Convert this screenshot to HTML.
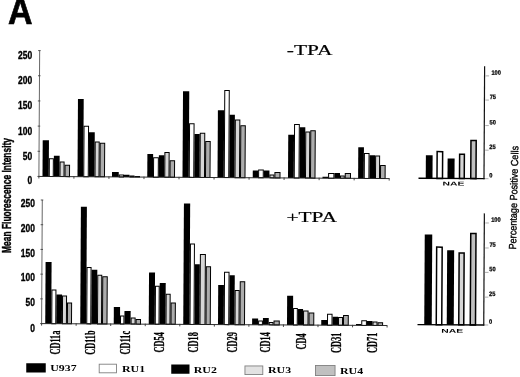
<!DOCTYPE html>
<html><head><meta charset="utf-8"><title>Figure A</title>
<style>html,body{margin:0;padding:0;background:#fff}svg{display:block}</style></head>
<body>
<svg width="520" height="377" viewBox="0 0 520 377">
<rect width="520" height="377" fill="#fff"/>
<text transform="translate(8 23.6) scale(0.905 1)" font-family="'Liberation Sans',sans-serif" font-weight="bold" font-size="37.5" stroke="#000" stroke-width="0.7">A</text>
<g transform="rotate(0.35 38.9 176.45)">
<rect x="42.5" y="140.21" width="6.25" height="36.24" fill="#000"/>
<rect x="49.25" y="158.67" width="4" height="17.78" fill="#fff" stroke="#000" stroke-width="1"/>
<rect x="53.75" y="155.64" width="5.75" height="20.81" fill="#000"/>
<rect x="60" y="161.86" width="4" height="14.59" fill="#d6d6d6" stroke="#000" stroke-width="1"/>
<rect x="65" y="165.08" width="4.5" height="11.37" fill="#acacac" stroke="#000" stroke-width="1"/>
<rect x="77.5" y="98.75" width="5.75" height="77.7" fill="#000"/>
<rect x="83.75" y="125.96" width="4.5" height="50.49" fill="#fff" stroke="#000" stroke-width="1"/>
<rect x="88.75" y="131.93" width="5.75" height="44.52" fill="#000"/>
<rect x="95" y="141.65" width="4" height="34.8" fill="#d6d6d6" stroke="#000" stroke-width="1"/>
<rect x="100" y="142.86" width="4.5" height="33.59" fill="#acacac" stroke="#000" stroke-width="1"/>
<rect x="112" y="171.43" width="6.75" height="5.02" fill="#000"/>
<rect x="119.25" y="174.4" width="4.25" height="2.05" fill="#fff" stroke="#000" stroke-width="1"/>
<rect x="124" y="174.26" width="5.5" height="2.19" fill="#000"/>
<rect x="130" y="175.53" width="4" height="0.92" fill="#d6d6d6" stroke="#000" stroke-width="1"/>
<rect x="135" y="175.9" width="4.5" height="0.55" fill="#acacac" stroke="#000" stroke-width="1"/>
<rect x="147.25" y="153.32" width="5.75" height="23.13" fill="#000"/>
<rect x="153.5" y="157.04" width="4.75" height="19.41" fill="#fff" stroke="#000" stroke-width="1"/>
<rect x="158.75" y="154.5" width="5.5" height="21.95" fill="#000"/>
<rect x="164.75" y="151.72" width="4.25" height="24.73" fill="#d6d6d6" stroke="#000" stroke-width="1"/>
<rect x="170" y="159.94" width="4.5" height="16.51" fill="#acacac" stroke="#000" stroke-width="1"/>
<rect x="182.5" y="90.35" width="6.25" height="86.1" fill="#000"/>
<rect x="189.25" y="122.82" width="4.5" height="53.63" fill="#fff" stroke="#000" stroke-width="1"/>
<rect x="194.25" y="133.03" width="5.25" height="43.42" fill="#000"/>
<rect x="200" y="132.25" width="4.5" height="44.2" fill="#d6d6d6" stroke="#000" stroke-width="1"/>
<rect x="205.5" y="140.47" width="4.5" height="35.98" fill="#acacac" stroke="#000" stroke-width="1"/>
<rect x="217.5" y="109.14" width="6.25" height="67.31" fill="#000"/>
<rect x="224.25" y="89.35" width="4.5" height="87.1" fill="#fff" stroke="#000" stroke-width="1"/>
<rect x="229.25" y="113.57" width="5.25" height="62.88" fill="#000"/>
<rect x="235" y="118.79" width="4.5" height="57.66" fill="#d6d6d6" stroke="#000" stroke-width="1"/>
<rect x="240.5" y="124.5" width="4.5" height="51.95" fill="#acacac" stroke="#000" stroke-width="1"/>
<rect x="252.75" y="169.28" width="5.35" height="7.17" fill="#000"/>
<rect x="258.6" y="168.54" width="4.65" height="7.91" fill="#fff" stroke="#000" stroke-width="1"/>
<rect x="263.75" y="169.21" width="5.65" height="7.24" fill="#000"/>
<rect x="269.9" y="173.48" width="4" height="2.97" fill="#d6d6d6" stroke="#000" stroke-width="1"/>
<rect x="274.9" y="171.14" width="5.1" height="5.31" fill="#acacac" stroke="#000" stroke-width="1"/>
<rect x="288" y="133.21" width="5.75" height="43.24" fill="#000"/>
<rect x="294.25" y="122.93" width="4.75" height="53.52" fill="#fff" stroke="#000" stroke-width="1"/>
<rect x="299.5" y="125.64" width="5.5" height="50.81" fill="#000"/>
<rect x="305.5" y="130.36" width="4" height="46.09" fill="#d6d6d6" stroke="#000" stroke-width="1"/>
<rect x="310.5" y="129.08" width="4.5" height="47.37" fill="#acacac" stroke="#000" stroke-width="1"/>
<rect x="322.5" y="175.05" width="5.6" height="1.4" fill="#000"/>
<rect x="328.6" y="171.81" width="5.3" height="4.64" fill="#fff" stroke="#000" stroke-width="1"/>
<rect x="334.4" y="171.28" width="5.6" height="5.17" fill="#000"/>
<rect x="340.5" y="174.25" width="3.75" height="2.2" fill="#d6d6d6" stroke="#000" stroke-width="1"/>
<rect x="345.25" y="171.71" width="5.25" height="4.74" fill="#acacac" stroke="#000" stroke-width="1"/>
<rect x="358.1" y="145.28" width="5.65" height="31.17" fill="#000"/>
<rect x="364.25" y="151.5" width="4.65" height="24.95" fill="#fff" stroke="#000" stroke-width="1"/>
<rect x="369.4" y="153.16" width="5.6" height="23.29" fill="#000"/>
<rect x="375.5" y="154.03" width="4" height="22.42" fill="#d6d6d6" stroke="#000" stroke-width="1"/>
<rect x="380.5" y="163.4" width="4.6" height="13.05" fill="#acacac" stroke="#000" stroke-width="1"/>
<line x1="38.9" y1="50.6" x2="38.9" y2="176.45" stroke="#555" stroke-width="0.9"/>
<line x1="38.4" y1="176.45" x2="389.3" y2="176.45" stroke="#222" stroke-width="0.95"/>
<line x1="38.9" y1="175.95" x2="38.9" y2="178.45" stroke="#333" stroke-width="0.9"/>
<line x1="73.93" y1="175.95" x2="73.93" y2="178.45" stroke="#333" stroke-width="0.9"/>
<line x1="108.96" y1="175.95" x2="108.96" y2="178.45" stroke="#333" stroke-width="0.9"/>
<line x1="143.99" y1="175.95" x2="143.99" y2="178.45" stroke="#333" stroke-width="0.9"/>
<line x1="179.02" y1="175.95" x2="179.02" y2="178.45" stroke="#333" stroke-width="0.9"/>
<line x1="214.05" y1="175.95" x2="214.05" y2="178.45" stroke="#333" stroke-width="0.9"/>
<line x1="249.08" y1="175.95" x2="249.08" y2="178.45" stroke="#333" stroke-width="0.9"/>
<line x1="284.11" y1="175.95" x2="284.11" y2="178.45" stroke="#333" stroke-width="0.9"/>
<line x1="319.14" y1="175.95" x2="319.14" y2="178.45" stroke="#333" stroke-width="0.9"/>
<line x1="354.17" y1="175.95" x2="354.17" y2="178.45" stroke="#333" stroke-width="0.9"/>
<line x1="389.2" y1="175.95" x2="389.2" y2="178.45" stroke="#333" stroke-width="0.9"/>
<line x1="37.4" y1="176.45" x2="39.9" y2="176.45" stroke="#444" stroke-width="0.9"/>
<line x1="37.4" y1="151.28" x2="39.9" y2="151.28" stroke="#444" stroke-width="0.9"/>
<line x1="37.4" y1="126.11" x2="39.9" y2="126.11" stroke="#444" stroke-width="0.9"/>
<line x1="37.4" y1="100.94" x2="39.9" y2="100.94" stroke="#444" stroke-width="0.9"/>
<line x1="37.4" y1="75.77" x2="39.9" y2="75.77" stroke="#444" stroke-width="0.9"/>
<line x1="37.4" y1="50.6" x2="39.9" y2="50.6" stroke="#444" stroke-width="0.9"/>
</g>
<g transform="rotate(0.32 41.6 323.6)">
<rect x="45.25" y="261.96" width="6" height="61.64" fill="#000"/>
<rect x="51.75" y="289.93" width="4" height="33.67" fill="#fff" stroke="#000" stroke-width="1"/>
<rect x="56.25" y="294.4" width="5.65" height="29.2" fill="#000"/>
<rect x="62.4" y="295.87" width="4" height="27.73" fill="#d6d6d6" stroke="#000" stroke-width="1"/>
<rect x="67.4" y="302.84" width="4.1" height="20.76" fill="#acacac" stroke="#000" stroke-width="1"/>
<rect x="80.25" y="206.52" width="6" height="117.08" fill="#000"/>
<rect x="86.75" y="267.24" width="4" height="56.36" fill="#fff" stroke="#000" stroke-width="1"/>
<rect x="91.25" y="269.46" width="5.75" height="54.14" fill="#000"/>
<rect x="97.5" y="274.93" width="4" height="48.67" fill="#d6d6d6" stroke="#000" stroke-width="1"/>
<rect x="102.5" y="276.4" width="4.5" height="47.2" fill="#acacac" stroke="#000" stroke-width="1"/>
<rect x="113.75" y="306.68" width="6.25" height="16.92" fill="#000"/>
<rect x="120.5" y="315.65" width="3.4" height="7.95" fill="#fff" stroke="#000" stroke-width="1"/>
<rect x="124.4" y="310.52" width="6.2" height="13.08" fill="#000"/>
<rect x="131.1" y="317.49" width="4" height="6.11" fill="#d6d6d6" stroke="#000" stroke-width="1"/>
<rect x="136.1" y="319.06" width="4.4" height="4.54" fill="#acacac" stroke="#000" stroke-width="1"/>
<rect x="148.75" y="271.88" width="6" height="51.72" fill="#000"/>
<rect x="155.25" y="285.6" width="3.75" height="38" fill="#fff" stroke="#000" stroke-width="1"/>
<rect x="159.5" y="282.32" width="6" height="41.28" fill="#000"/>
<rect x="166" y="293.54" width="4" height="30.06" fill="#d6d6d6" stroke="#000" stroke-width="1"/>
<rect x="171" y="302.27" width="4.25" height="21.33" fill="#acacac" stroke="#000" stroke-width="1"/>
<rect x="183.25" y="202.69" width="6.25" height="120.91" fill="#000"/>
<rect x="190" y="243.16" width="4" height="80.44" fill="#fff" stroke="#000" stroke-width="1"/>
<rect x="194.5" y="263.38" width="5" height="60.22" fill="#000"/>
<rect x="200" y="253.6" width="5" height="70" fill="#d6d6d6" stroke="#000" stroke-width="1"/>
<rect x="206" y="265.82" width="4.25" height="57.78" fill="#acacac" stroke="#000" stroke-width="1"/>
<rect x="218" y="284" width="5.75" height="39.6" fill="#000"/>
<rect x="224.25" y="271.22" width="4.5" height="52.38" fill="#fff" stroke="#000" stroke-width="1"/>
<rect x="229.25" y="274.19" width="5.25" height="49.41" fill="#000"/>
<rect x="235" y="289.41" width="4" height="34.19" fill="#d6d6d6" stroke="#000" stroke-width="1"/>
<rect x="240" y="280.63" width="4.5" height="42.97" fill="#acacac" stroke="#000" stroke-width="1"/>
<rect x="252.1" y="317.21" width="6" height="6.39" fill="#000"/>
<rect x="258.6" y="319.88" width="3.8" height="3.72" fill="#fff" stroke="#000" stroke-width="1"/>
<rect x="262.9" y="316.65" width="5.85" height="6.95" fill="#000"/>
<rect x="269.25" y="321.12" width="3.75" height="2.48" fill="#d6d6d6" stroke="#000" stroke-width="1"/>
<rect x="274" y="319.59" width="5.25" height="4.01" fill="#acacac" stroke="#000" stroke-width="1"/>
<rect x="287" y="294.36" width="6" height="29.24" fill="#000"/>
<rect x="293.5" y="307.08" width="3.75" height="16.52" fill="#fff" stroke="#000" stroke-width="1"/>
<rect x="297.75" y="307.55" width="5.25" height="16.05" fill="#000"/>
<rect x="303.5" y="309.52" width="4.5" height="14.08" fill="#d6d6d6" stroke="#000" stroke-width="1"/>
<rect x="309" y="311.49" width="4.75" height="12.11" fill="#acacac" stroke="#000" stroke-width="1"/>
<rect x="321.25" y="318.42" width="5.75" height="5.18" fill="#000"/>
<rect x="327.5" y="312.64" width="4.5" height="10.96" fill="#fff" stroke="#000" stroke-width="1"/>
<rect x="332.5" y="315.11" width="5.5" height="8.49" fill="#000"/>
<rect x="338.5" y="315.83" width="4" height="7.77" fill="#d6d6d6" stroke="#000" stroke-width="1"/>
<rect x="343.5" y="313.8" width="4.75" height="9.8" fill="#acacac" stroke="#000" stroke-width="1"/>
<rect x="356" y="322.13" width="5.25" height="1.47" fill="#000"/>
<rect x="361.75" y="318.95" width="4.65" height="4.65" fill="#fff" stroke="#000" stroke-width="1"/>
<rect x="366.9" y="319.17" width="5.6" height="4.43" fill="#000"/>
<rect x="373" y="320.24" width="4" height="3.36" fill="#d6d6d6" stroke="#000" stroke-width="1"/>
<rect x="378" y="320.86" width="4.6" height="2.74" fill="#acacac" stroke="#000" stroke-width="1"/>
<line x1="41.6" y1="200" x2="41.6" y2="323.6" stroke="#555" stroke-width="0.9"/>
<line x1="41.1" y1="323.6" x2="387" y2="323.6" stroke="#222" stroke-width="0.95"/>
<line x1="41.6" y1="323.1" x2="41.6" y2="325.6" stroke="#333" stroke-width="0.9"/>
<line x1="76.15" y1="323.1" x2="76.15" y2="325.6" stroke="#333" stroke-width="0.9"/>
<line x1="110.7" y1="323.1" x2="110.7" y2="325.6" stroke="#333" stroke-width="0.9"/>
<line x1="145.25" y1="323.1" x2="145.25" y2="325.6" stroke="#333" stroke-width="0.9"/>
<line x1="179.8" y1="323.1" x2="179.8" y2="325.6" stroke="#333" stroke-width="0.9"/>
<line x1="214.35" y1="323.1" x2="214.35" y2="325.6" stroke="#333" stroke-width="0.9"/>
<line x1="248.9" y1="323.1" x2="248.9" y2="325.6" stroke="#333" stroke-width="0.9"/>
<line x1="283.45" y1="323.1" x2="283.45" y2="325.6" stroke="#333" stroke-width="0.9"/>
<line x1="318" y1="323.1" x2="318" y2="325.6" stroke="#333" stroke-width="0.9"/>
<line x1="352.55" y1="323.1" x2="352.55" y2="325.6" stroke="#333" stroke-width="0.9"/>
<line x1="387.1" y1="323.1" x2="387.1" y2="325.6" stroke="#333" stroke-width="0.9"/>
<line x1="40.1" y1="323.6" x2="42.6" y2="323.6" stroke="#444" stroke-width="0.9"/>
<line x1="40.1" y1="298.88" x2="42.6" y2="298.88" stroke="#444" stroke-width="0.9"/>
<line x1="40.1" y1="274.16" x2="42.6" y2="274.16" stroke="#444" stroke-width="0.9"/>
<line x1="40.1" y1="249.44" x2="42.6" y2="249.44" stroke="#444" stroke-width="0.9"/>
<line x1="40.1" y1="224.72" x2="42.6" y2="224.72" stroke="#444" stroke-width="0.9"/>
<line x1="40.1" y1="200" x2="42.6" y2="200" stroke="#444" stroke-width="0.9"/>
</g>
<text transform="translate(32.1 58.6) scale(0.8 1)" text-anchor="end" font-family="'Liberation Sans',sans-serif" font-weight="bold" font-size="10.6" stroke="#000" stroke-width="0.35">250</text>
<text transform="translate(32.1 83.7) scale(0.8 1)" text-anchor="end" font-family="'Liberation Sans',sans-serif" font-weight="bold" font-size="10.6" stroke="#000" stroke-width="0.35">200</text>
<text transform="translate(32.1 108.7) scale(0.8 1)" text-anchor="end" font-family="'Liberation Sans',sans-serif" font-weight="bold" font-size="10.6" stroke="#000" stroke-width="0.35">150</text>
<text transform="translate(32.1 134.5) scale(0.8 1)" text-anchor="end" font-family="'Liberation Sans',sans-serif" font-weight="bold" font-size="10.6" stroke="#000" stroke-width="0.35">100</text>
<text transform="translate(32.1 159.6) scale(0.8 1)" text-anchor="end" font-family="'Liberation Sans',sans-serif" font-weight="bold" font-size="10.6" stroke="#000" stroke-width="0.35">50</text>
<text transform="translate(32.1 184.3) scale(0.8 1)" text-anchor="end" font-family="'Liberation Sans',sans-serif" font-weight="bold" font-size="10.6" stroke="#000" stroke-width="0.35">0</text>
<text transform="translate(34.9 207.2) scale(0.8 1)" text-anchor="end" font-family="'Liberation Sans',sans-serif" font-weight="bold" font-size="10.6" stroke="#000" stroke-width="0.35">250</text>
<text transform="translate(34.9 231.8) scale(0.8 1)" text-anchor="end" font-family="'Liberation Sans',sans-serif" font-weight="bold" font-size="10.6" stroke="#000" stroke-width="0.35">200</text>
<text transform="translate(34.9 256.8) scale(0.8 1)" text-anchor="end" font-family="'Liberation Sans',sans-serif" font-weight="bold" font-size="10.6" stroke="#000" stroke-width="0.35">150</text>
<text transform="translate(34.9 281.2) scale(0.8 1)" text-anchor="end" font-family="'Liberation Sans',sans-serif" font-weight="bold" font-size="10.6" stroke="#000" stroke-width="0.35">100</text>
<text transform="translate(34.9 306.1) scale(0.8 1)" text-anchor="end" font-family="'Liberation Sans',sans-serif" font-weight="bold" font-size="10.6" stroke="#000" stroke-width="0.35">50</text>
<text transform="translate(34.9 331.9) scale(0.8 1)" text-anchor="end" font-family="'Liberation Sans',sans-serif" font-weight="bold" font-size="10.6" stroke="#000" stroke-width="0.35">0</text>
<text transform="translate(11.1 252.9) rotate(-90) scale(0.647 1)" font-family="'Liberation Sans',sans-serif" font-weight="bold" font-size="13" stroke="#000" stroke-width="0.4">Mean Fluorescence Intensity</text>
<text transform="translate(516 249.5) rotate(-88.7) scale(0.883 1)" font-family="'Liberation Sans',sans-serif" font-size="10.3" stroke="#000" stroke-width="0.35">Percentage Positive Cells</text>
<text transform="translate(286.8 55.4) scale(1.43 1)" font-family="'Liberation Serif',serif" font-size="15" stroke="#000" stroke-width="0.2">-TPA</text>
<text transform="translate(286.4 221.9) scale(1.43 1)" font-family="'Liberation Serif',serif" font-size="15" stroke="#000" stroke-width="0.2">+TPA</text>
<text transform="translate(59.9 342.6) rotate(-90) scale(0.555 1)" text-anchor="middle" font-family="'Liberation Serif',serif" font-weight="bold" font-size="15" stroke="#000" stroke-width="0.3">CD11a</text>
<text transform="translate(94.5 342.6) rotate(-90) scale(0.555 1)" text-anchor="middle" font-family="'Liberation Serif',serif" font-weight="bold" font-size="15" stroke="#000" stroke-width="0.3">CD11b</text>
<text transform="translate(129.7 342.6) rotate(-90) scale(0.555 1)" text-anchor="middle" font-family="'Liberation Serif',serif" font-weight="bold" font-size="15" stroke="#000" stroke-width="0.3">CD11c</text>
<text transform="translate(163.9 342.3) rotate(-90) scale(0.555 1)" text-anchor="middle" font-family="'Liberation Serif',serif" font-weight="bold" font-size="15" stroke="#000" stroke-width="0.3">CD54</text>
<text transform="translate(198.3 342.3) rotate(-90) scale(0.555 1)" text-anchor="middle" font-family="'Liberation Serif',serif" font-weight="bold" font-size="15" stroke="#000" stroke-width="0.3">CD18</text>
<text transform="translate(236.9 342.3) rotate(-90) scale(0.555 1)" text-anchor="middle" font-family="'Liberation Serif',serif" font-weight="bold" font-size="15" stroke="#000" stroke-width="0.3">CD29</text>
<text transform="translate(270.2 342.3) rotate(-90) scale(0.555 1)" text-anchor="middle" font-family="'Liberation Serif',serif" font-weight="bold" font-size="15" stroke="#000" stroke-width="0.3">CD14</text>
<text transform="translate(305.9 341.4) rotate(-90) scale(0.555 1)" text-anchor="middle" font-family="'Liberation Serif',serif" font-weight="bold" font-size="15" stroke="#000" stroke-width="0.3">CD4</text>
<text transform="translate(341 342.8) rotate(-90) scale(0.555 1)" text-anchor="middle" font-family="'Liberation Serif',serif" font-weight="bold" font-size="15" stroke="#000" stroke-width="0.3">CD31</text>
<text transform="translate(376.7 342.8) rotate(-90) scale(0.555 1)" text-anchor="middle" font-family="'Liberation Serif',serif" font-weight="bold" font-size="15" stroke="#000" stroke-width="0.3">CD71</text>
<g transform="rotate(0.32 418.5 178.3)">
<rect x="425.75" y="155.25" width="6.75" height="23.05" fill="#000"/>
<rect x="437" y="151.5" width="5.5" height="26.8" fill="#fff" stroke="#000" stroke-width="1.5"/>
<rect x="447.5" y="158.25" width="7" height="20.05" fill="#000"/>
<rect x="459.5" y="154" width="4.75" height="24.3" fill="#d6d6d6" stroke="#000" stroke-width="1.5"/>
<rect x="470.75" y="140.15" width="5.25" height="38.15" fill="#c0c0c0" stroke="#000" stroke-width="1.5"/>
<line x1="418.5" y1="178.3" x2="484.7" y2="178.3" stroke="#000" stroke-width="1.4"/>
<line x1="484" y1="66" x2="484" y2="178.8" stroke="#111" stroke-width="1.2"/>
<line x1="485" y1="75.5" x2="488.5" y2="75.5" stroke="#999" stroke-width="0.8"/>
<text transform="translate(490.8 74.3) scale(0.9 1)" font-family="'Liberation Sans',sans-serif" font-weight="bold" font-size="6.3" stroke="#000" stroke-width="0.25">100</text>
<line x1="485" y1="99.7" x2="488.5" y2="99.7" stroke="#999" stroke-width="0.8"/>
<text transform="translate(489.2 98.5) scale(0.9 1)" font-family="'Liberation Sans',sans-serif" font-weight="bold" font-size="6.3" stroke="#000" stroke-width="0.25">75</text>
<line x1="485" y1="125.2" x2="488.5" y2="125.2" stroke="#999" stroke-width="0.8"/>
<text transform="translate(489.2 124) scale(0.9 1)" font-family="'Liberation Sans',sans-serif" font-weight="bold" font-size="6.3" stroke="#000" stroke-width="0.25">50</text>
<line x1="485" y1="149.8" x2="488.5" y2="149.8" stroke="#999" stroke-width="0.8"/>
<text transform="translate(489.2 148.6) scale(0.9 1)" font-family="'Liberation Sans',sans-serif" font-weight="bold" font-size="6.3" stroke="#000" stroke-width="0.25">25</text>
<line x1="485" y1="178.3" x2="488.5" y2="178.3" stroke="#999" stroke-width="0.8"/>
<text transform="translate(489.2 177.1) scale(0.9 1)" font-family="'Liberation Sans',sans-serif" font-weight="bold" font-size="6.3" stroke="#000" stroke-width="0.25">0</text>
<text transform="translate(442.5 185.4) scale(1.85 1)" font-family="'Liberation Sans',sans-serif" font-weight="bold" font-size="5.6">NAE</text>
</g>
<g transform="rotate(0.32 417.5 324.6)">
<rect x="424.25" y="234.5" width="7.5" height="90.1" fill="#000"/>
<rect x="436.25" y="247" width="5.5" height="77.6" fill="#fff" stroke="#000" stroke-width="1.5"/>
<rect x="446.75" y="250" width="7" height="74.6" fill="#000"/>
<rect x="458.75" y="252.75" width="5" height="71.85" fill="#d6d6d6" stroke="#000" stroke-width="1.5"/>
<rect x="470.25" y="233.25" width="5.25" height="91.35" fill="#c0c0c0" stroke="#000" stroke-width="1.5"/>
<line x1="417.5" y1="324.6" x2="484.45" y2="324.6" stroke="#000" stroke-width="1.4"/>
<line x1="483.75" y1="213" x2="483.75" y2="325.1" stroke="#111" stroke-width="1.2"/>
<line x1="484.75" y1="222.6" x2="488.25" y2="222.6" stroke="#999" stroke-width="0.8"/>
<text transform="translate(490.55 221.4) scale(0.9 1)" font-family="'Liberation Sans',sans-serif" font-weight="bold" font-size="6.3" stroke="#000" stroke-width="0.25">100</text>
<line x1="484.75" y1="247.6" x2="488.25" y2="247.6" stroke="#999" stroke-width="0.8"/>
<text transform="translate(488.95 246.4) scale(0.9 1)" font-family="'Liberation Sans',sans-serif" font-weight="bold" font-size="6.3" stroke="#000" stroke-width="0.25">75</text>
<line x1="484.75" y1="272" x2="488.25" y2="272" stroke="#999" stroke-width="0.8"/>
<text transform="translate(488.95 270.8) scale(0.9 1)" font-family="'Liberation Sans',sans-serif" font-weight="bold" font-size="6.3" stroke="#000" stroke-width="0.25">50</text>
<line x1="484.75" y1="296.75" x2="488.25" y2="296.75" stroke="#999" stroke-width="0.8"/>
<text transform="translate(488.95 295.55) scale(0.9 1)" font-family="'Liberation Sans',sans-serif" font-weight="bold" font-size="6.3" stroke="#000" stroke-width="0.25">25</text>
<line x1="484.75" y1="324.6" x2="488.25" y2="324.6" stroke="#999" stroke-width="0.8"/>
<text transform="translate(488.95 323.4) scale(0.9 1)" font-family="'Liberation Sans',sans-serif" font-weight="bold" font-size="6.3" stroke="#000" stroke-width="0.25">0</text>
<text transform="translate(441.25 332.6) scale(1.85 1)" font-family="'Liberation Sans',sans-serif" font-weight="bold" font-size="5.6">NAE</text>
</g>
<rect x="26.25" y="363.25" width="19.5" height="9.25" fill="#000"/>
<text transform="translate(50.2 371) scale(1.38 1)" font-family="'Liberation Serif',serif" font-weight="bold" font-size="8.6">U937</text>
<rect x="99.2" y="364.2" width="17.35" height="8.6" fill="#fff" stroke="#808080" stroke-width="0.9"/>
<text transform="translate(122 372) scale(1.38 1)" font-family="'Liberation Serif',serif" font-weight="bold" font-size="8.6">RU1</text>
<rect x="171.25" y="364.5" width="18.25" height="9.25" fill="#000"/>
<text transform="translate(193.75 372.5) scale(1.38 1)" font-family="'Liberation Serif',serif" font-weight="bold" font-size="8.6">RU2</text>
<rect x="244.95" y="365.95" width="17.85" height="8.6" fill="#e2e2e2" stroke="#808080" stroke-width="0.9"/>
<text transform="translate(268 373.3) scale(1.38 1)" font-family="'Liberation Serif',serif" font-weight="bold" font-size="8.6">RU3</text>
<rect x="315.45" y="365.45" width="19.6" height="10.1" fill="#c0c0c0" stroke="#808080" stroke-width="0.9"/>
<text transform="translate(340 373.8) scale(1.38 1)" font-family="'Liberation Serif',serif" font-weight="bold" font-size="8.6">RU4</text>
</svg>
</body></html>
